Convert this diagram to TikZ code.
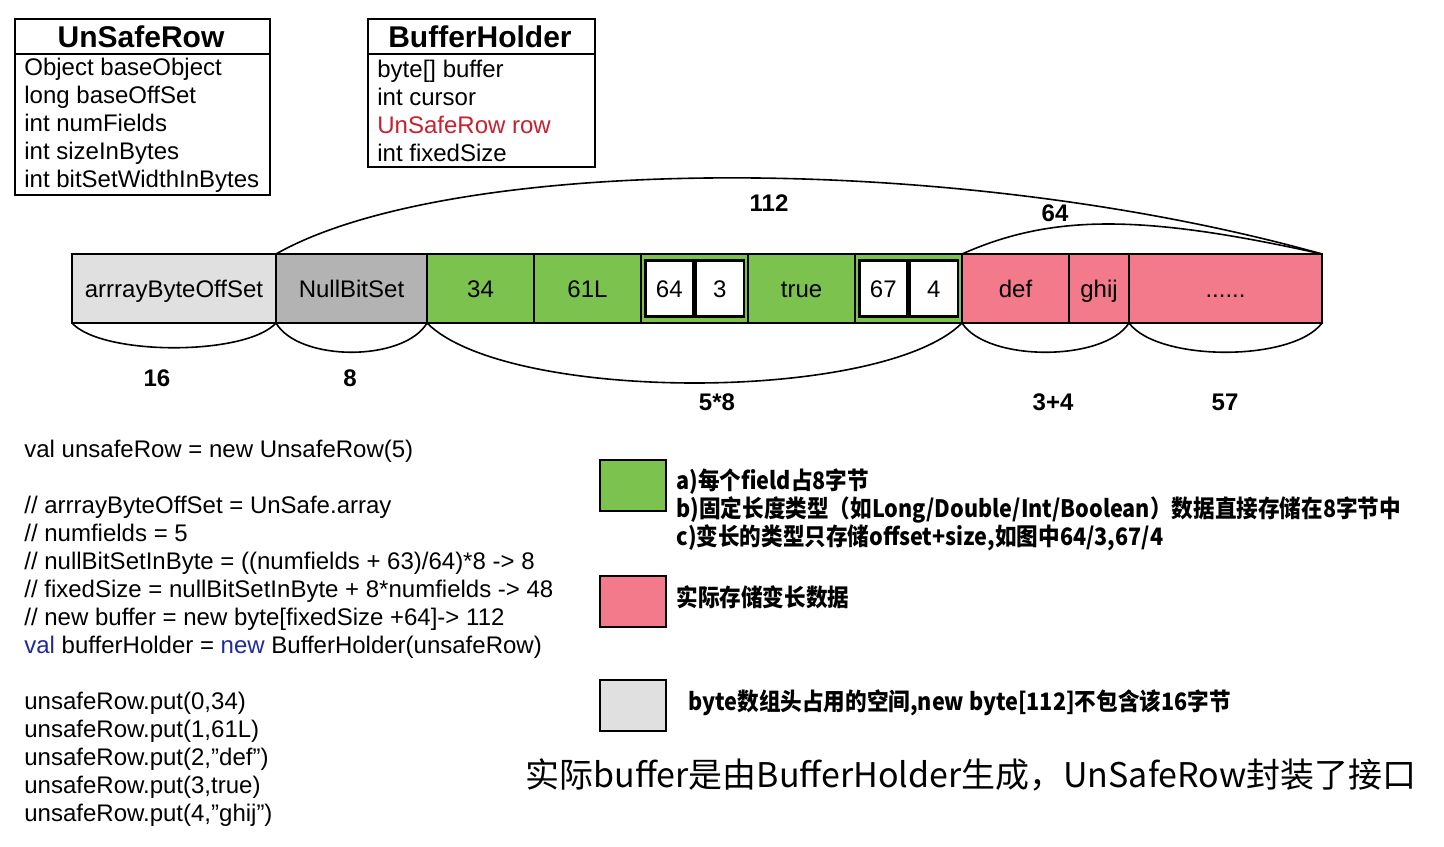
\documentclass[tikz,border=0pt]{standalone}
\usepackage{fontspec}
\setmainfont{Liberation Sans}
\newfontfamily\cjk{Noto Sans CJK SC}
\newfontfamily\cjknote[FakeStretch=0.9]{Noto Sans CJK SC}
\usepackage{xcolor}
\usepackage{tikz}
\usetikzlibrary{calc,positioning}
\definecolor{headgray}{HTML}{E0E0E0}
\definecolor{nullgray}{HTML}{B3B3B3}
\definecolor{fixgreen}{HTML}{7CC24F}
\definecolor{varpink}{HTML}{F27A8A}
\definecolor{fieldred}{HTML}{C8202F}
\definecolor{kwblue}{HTML}{1F2A9A}
\tikzset{
  frame/.style={draw=black, line width=1pt},
  classbox/.style={frame, anchor=north west, inner sep=0pt},
  classtitle/.style={font=\fontsize{15}{17}\selectfont\bfseries},
  member/.style={font=\fontsize{12}{14}\selectfont, align=left, anchor=west, inner sep=0pt},
  cell/.style={frame, minimum height=34.5pt, inner sep=0pt, outer sep=0pt, text height=8.6pt, text depth=0pt, font=\fontsize{12}{14}\selectfont},
  slot/.style={draw=black, line width=1.2pt, fill=white, minimum width=24pt, minimum height=28pt, inner sep=0pt, text height=8.6pt, text depth=0pt, font=\fontsize{12}{14}\selectfont},
  brace/.style={line width=0.8pt},
  size/.style={font=\fontsize{12}{14}\selectfont\bfseries},
  swatch/.style={frame, minimum width=33pt, minimum height=25.5pt, anchor=north west, inner sep=0pt},
  note/.style={font=\cjknote\bfseries\fontsize{12}{14}\selectfont, align=left, anchor=west, inner sep=0pt}
}
\begin{document}
\begin{tikzpicture}[x=0.5pt,y=-0.5pt]
\useasboundingbox[fill=white] (0,0) rectangle (1444,846);

% class boxes
\node[classbox, minimum width=127.5pt, minimum height=88pt] (urow) at (14,18) {};
\draw[frame] ([yshift=-18pt]urow.north west) -- ([yshift=-18pt]urow.north east);
\node[classtitle] (urowtitle) at (141,37) {UnSafeRow};
\node[member] (urowbody) at (24,125) {Object baseObject\\long baseOffSet\\int numFields\\int sizeInBytes\\int bitSetWidthInBytes};

\node[classbox, minimum width=113.5pt, minimum height=74pt] (bholder) at (367,18) {};
\draw[frame] ([yshift=-18pt]bholder.north west) -- ([yshift=-18pt]bholder.north east);
\node[classtitle] (bholdertitle) at (480,37) {BufferHolder};
\node[member] (bholderbody) at (377,111) {byte[] buffer\\int cursor\\\textcolor{fieldred}{UnSafeRow row}\\int fixedSize};

% memory row
\node[cell, fill=headgray, minimum width=102pt, anchor=north west] (aboff) at (72,254) {arrrayByteOffSet};
\node[cell, fill=nullgray, minimum width=75.5pt, right=0pt of aboff] (nbits) {NullBitSet};
\node[cell, fill=fixgreen, minimum width=53.5pt, right=0pt of nbits] (f1) {34};
\node[cell, fill=fixgreen, minimum width=53.5pt, right=0pt of f1] (f2) {61L};
\node[cell, fill=fixgreen, minimum width=53.5pt, right=0pt of f2] (f3) {};
\node[cell, fill=fixgreen, minimum width=53.5pt, right=0pt of f3] (f4) {true};
\node[cell, fill=fixgreen, minimum width=53.5pt, right=0pt of f4] (f5) {};
\node[cell, fill=varpink, minimum width=53.5pt, right=0pt of f5] (v1) {def};
\node[cell, fill=varpink, minimum width=30pt, right=0pt of v1] (v2) {ghij};
\node[cell, fill=varpink, minimum width=96.5pt, right=0pt of v2] (vrest) {......};

\node[slot, anchor=east] (off3) at (f3.center) {64};
\node[slot, anchor=west] (len3) at (f3.center) {3};
\node[slot, anchor=east] (off5) at (f5.center) {67};
\node[slot, anchor=west] (len5) at (f5.center) {4};

% sizes below
\draw[brace] (aboff.south west) .. controls ($(aboff.south west)+(30,33)$) and ($(aboff.south east)+(-30,33)$) .. (aboff.south east);
\draw[brace] (nbits.south west) .. controls ($(nbits.south west)+(23,39)$) and ($(nbits.south east)+(-23,39)$) .. (nbits.south east);
\draw[brace] (f1.south west) .. controls ($(f1.south west)+(80,80)$) and ($(f5.south east)+(-80,80)$) .. (f5.south east);
\draw[brace] (v1.south west) .. controls ($(v1.south west)+(25,39)$) and ($(v2.south east)+(-25,39)$) .. (v2.south east);
\draw[brace] (vrest.south west) .. controls ($(vrest.south west)+(29,39)$) and ($(vrest.south east)+(-29,39)$) .. (vrest.south east);
\node[size] (lab16) at (157,378) {16};
\node[size] (lab8) at (350,378) {8};
\node[size] (lab40) at (717,402) {5*8};
\node[size] (lab7) at (1053,402) {3+4};
\node[size] (lab57) at (1225,402) {57};

% sizes above
\draw[brace] (nbits.north west) .. controls ($(nbits.north west)+(174,-99)$) and ($(vrest.north east)+(-372,-104)$) .. (vrest.north east);
\draw[brace] (v1.north west) .. controls ($(v1.north west)+(90,-40)$) and ($(vrest.north east)+(-180,-40)$) .. (vrest.north east);
\node[size] (lab112) at (769,203) {112};
\node[size] (lab64) at (1055,213) {64};

% code
\node[member] (code) at (24,633) {val unsafeRow = new UnsafeRow(5)\\[14pt]
// arrrayByteOffSet = UnSafe.array\\
// numfields = 5\\
// nullBitSetInByte = ((numfields + 63)/64)*8 -> 8\\
// fixedSize = nullBitSetInByte + 8*numfields -> 48\\
// new buffer = new byte[fixedSize +64]-> 112\\
\textcolor{kwblue}{val} bufferHolder = \textcolor{kwblue}{new} BufferHolder(unsafeRow)\\[14pt]
unsafeRow.put(0,34)\\
unsafeRow.put(1,61L)\\
unsafeRow.put(2,”def”)\\
unsafeRow.put(3,true)\\
unsafeRow.put(4,”ghij”)};

% legend
\node[swatch, fill=fixgreen] (keyfix) at (599,459) {};
\node[note] (notefix) at (676,510) {a)每个field占8字节\\b)固定长度类型（如Long/Double/Int/Boolean）数据直接存储在8字节中\\c)变长的类型只存储offset+size,如图中64/3,67/4};
\node[swatch, fill=varpink] (keyvar) at (599,575) {};
\node[note] (notevar) at (676,597) {实际存储变长数据};
\node[swatch, fill=headgray] (keyhead) at (599,679) {};
\node[note] (notehead) at (688,703) {byte数组头占用的空间,new byte[112]不包含该16字节};

\node[font=\cjk\fontsize{17}{19}\selectfont] (caption) at (971,775) {实际buffer是由BufferHolder生成，UnSafeRow封装了接口};
\end{tikzpicture}
\end{document}
